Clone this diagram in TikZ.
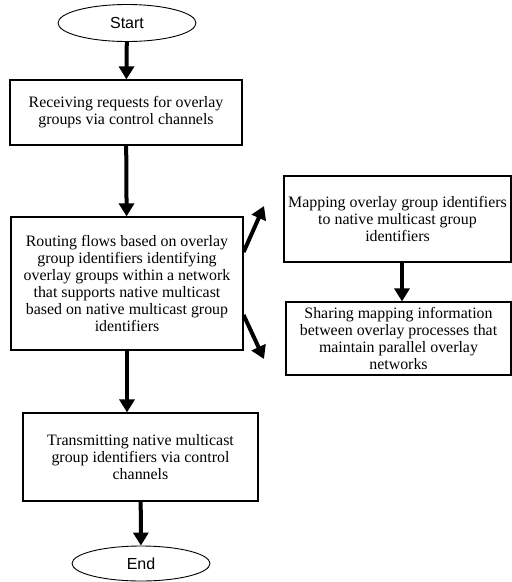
\documentclass[tikz,border=0pt]{standalone}
\usepackage{fontspec}
\setmainfont{Liberation Serif}
\newfontfamily\ovalfont{Liberation Sans}
\usetikzlibrary{arrows.meta}
\usetikzlibrary{shapes.geometric}
\tikzset{>=latex}
\tikzstyle{stepbox} = [draw, rectangle, line width = 1.2pt, inner sep = 0, align = center,
  font = \fontsize{15.9}{17}\selectfont]
\tikzstyle{oval} = [draw, ellipse, line width = 0.9pt, inner sep = 0,
  font = \ovalfont\fontsize{16}{18}\selectfont]
\tikzstyle{flow} = [-{Triangle[width = 15pt, length = 13pt]}, line width = 4pt, draw = black]

\begin{document}
\begin{tikzpicture}[x = 1pt, y = -1pt]
\useasboundingbox (0, 0) rectangle (512, 582);
\node [oval, minimum width = 138, minimum height = 37]  (S) at (127, 23) {Start};
\node [stepbox, minimum width = 232, minimum height = 65]  (recv) at (126, 112.5)
  {Receiving requests for overlay\\groups via control channels};
\node [stepbox, minimum width = 232, minimum height = 133]  (route) at (127, 283.5)
  {Routing flows based on overlay\\group identifiers identifying\\overlay groups within a network\\that supports native multicast\\based on native multicast group\\identifiers};
\node [stepbox, minimum width = 227, minimum height = 86]  (map) at (397.5, 219)
  {Mapping overlay group identifiers\\to native multicast group\\identifiers};
\node [stepbox, minimum width = 225, minimum height = 73]  (share) at (398.5, 338.5)
  {Sharing mapping information\\between overlay processes that\\maintain parallel overlay\\networks};
\node [stepbox, minimum width = 235, minimum height = 88]  (send) at (140.5, 457)
  {Transmitting native multicast\\group identifiers via control\\channels};
\node [oval, minimum width = 138, minimum height = 35]  (E) at (141, 563.5) {End};
% free ends of the two side arrows
\coordinate (upTip) at (264, 206);
\coordinate (dnTip) at (264, 359);
\draw [flow] (S) to (recv);
\draw [flow] (recv) to (route);
\draw [flow] (route.south) to (route.south |- send.north);
\draw [flow] (send) to (E);
\draw [flow] ([yshift = 31.5pt]route.east) to (upTip);
\draw [flow] ([yshift = -31.5pt]route.east) to (dnTip);
\draw [flow] (map.south -| 402, 0) to (share.north -| 402, 0);
\end{tikzpicture}
\end{document}
